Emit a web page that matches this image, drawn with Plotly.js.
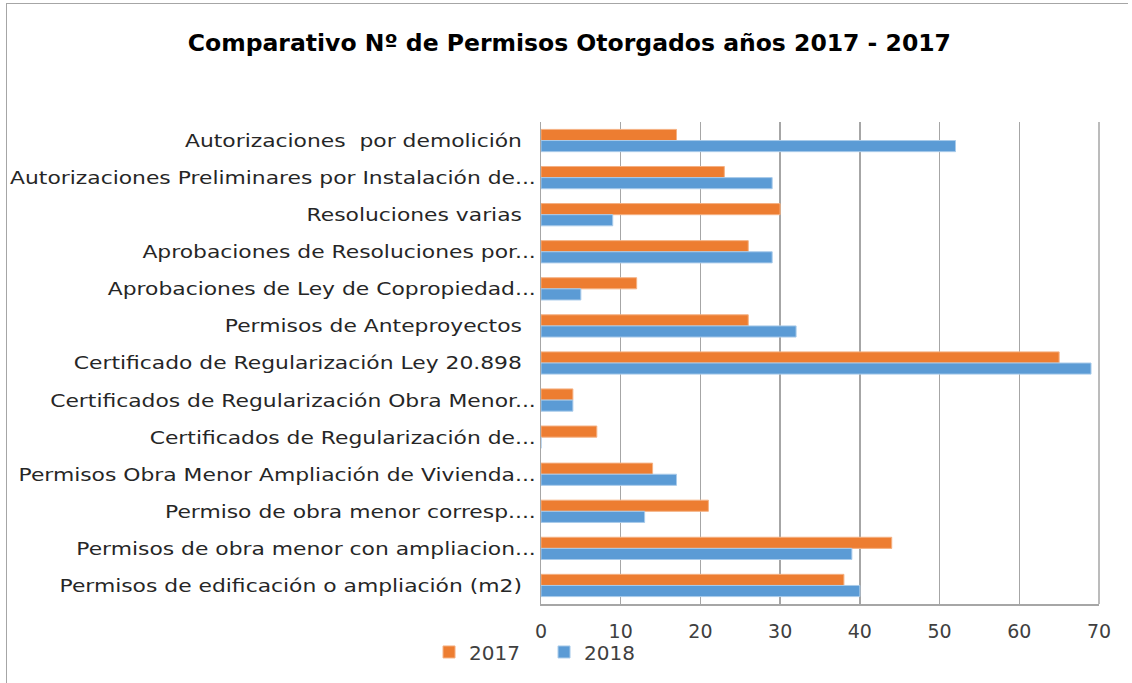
<!DOCTYPE html>
<html>
<head>
<meta charset="utf-8">
<script src="https://cdn.plot.ly/plotly-3.0.1.min.js"></script>
<style>
  html, body { margin: 0; padding: 0; background: #fff; }
  #wrap { position: relative; width: 1132px; height: 683px; }
  #chart { width: 1132px; height: 683px; }
  #frame { position: absolute; left: 6px; top: 3px; width: 1122px; height: 680px;
           border-top: 1.5px solid #a6a6a6; border-left: 1.5px solid #a6a6a6;
           pointer-events: none; box-sizing: border-box; }
</style>
</head>
<body>
<div id="wrap">
  <div id="chart"></div>
  <div id="frame"></div>
</div>
<script>
// Categories listed top to bottom as shown in the chart
const categories = [
  "Autorizaciones  por demolición",
  "Autorizaciones Preliminares por Instalación de...",
  "Resoluciones varias",
  "Aprobaciones de Resoluciones por...",
  "Aprobaciones de Ley de Copropiedad...",
  "Permisos de Anteproyectos",
  "Certificado de Regularización Ley 20.898",
  "Certificados de Regularización Obra Menor...",
  "Certificados de Regularización de...",
  "Permisos Obra Menor Ampliación de Vivienda...",
  "Permiso de obra menor corresp....",
  "Permisos de obra menor con ampliacion...",
  "Permisos de edificación o ampliación (m2)"
];
const values2017 = [17, 23, 30, 26, 12, 26, 65, 4, 7, 14, 21, 44, 38];
const values2018 = [52, 29, 9, 29, 5, 32, 69, 4, 0, 17, 13, 39, 40];
const seriesNames = ["2017", "2018"];
const xTicks = [0, 10, 20, 30, 40, 50, 60, 70];

// Excel pads labels that are not truncated; mimic with trailing spaces
const tickText = categories.map(c => c.endsWith("...") ? c : c + "\u00a0\u00a0");

const traces = [
  {
    type: "bar", orientation: "h", name: seriesNames[0],
    y: categories, x: values2017,
    marker: { color: "#ed7d31", line: { color: "#f4b183", width: 1 } },
    hoverinfo: "x+y"
  },
  {
    type: "bar", orientation: "h", name: seriesNames[1],
    y: categories, x: values2018,
    marker: { color: "#5b9bd5", line: { color: "#a9cbea", width: 1 } },
    hoverinfo: "x+y"
  }
];

const FONT = "DejaVu Sans, sans-serif";

const layout = {
  width: 1132, height: 683,
  paper_bgcolor: "#ffffff", plot_bgcolor: "#ffffff",
  margin: { l: 541, r: 33, t: 122, b: 79 },
  barmode: "group", bargap: 0.4, bargroupgap: 0,
  title: {
    text: "<b>Comparativo Nº de Permisos Otorgados años 2017 - 2017</b>",
    font: { family: FONT, size: 23.5, color: "#000000" },
    x: 0.503, xanchor: "center", y: 0.937, yanchor: "middle"
  },
  font: { family: FONT, color: "#262626" },
  xaxis: {
    range: [0, 70], tickvals: xTicks, ticktext: xTicks.map(String),
    showgrid: true, gridcolor: "#a6a6a6", gridwidth: 1.5,
    zeroline: false, showline: true, linecolor: "#a6a6a6", linewidth: 1.5,
    mirror: false, ticks: "", ticklen: 0,
    tickfont: { size: 19, color: "#404040", family: FONT },
    ticklabelstandoff: 10, automargin: false,
    fixedrange: true
  },
  yaxis: {
    type: "category", autorange: "reversed",
    tickvals: categories, ticktext: tickText,
    showgrid: false, zeroline: false,
    showline: true, linecolor: "#a6a6a6", linewidth: 1.5,
    ticks: "", ticklen: 0,
    tickfont: { size: 18.5, color: "#262626", family: FONT },
    ticklabelstandoff: 0, automargin: false,
    fixedrange: true
  },
  shapes: [
    { type: "line", xref: "paper", yref: "paper", x0: 1, x1: 1, y0: 0, y1: 1,
      line: { color: "#a6a6a6", width: 1.5 } }
  ],
  legend: {
    orientation: "h", xref: "container", yref: "container",
    x: 0.379, xanchor: "left", y: 0.074, yanchor: "top",
    bgcolor: "rgba(0,0,0,0)",
    font: { size: 20, color: "#404040", family: FONT },
    traceorder: "normal", entrywidth: 70, entrywidthmode: "pixels"
  },
  showlegend: true
};

Plotly.newPlot("chart", traces, layout, { displayModeBar: false, staticPlot: true }).then(gd => {
  // reference category labels are drawn horizontally wider than the font's natural width
  gd.querySelectorAll(".ytick text").forEach(t => {
    const w = t.getComputedTextLength();
    t.setAttribute("textLength", (w * 1.18).toFixed(1));
    t.setAttribute("lengthAdjust", "spacingAndGlyphs");
  });
});
</script>
</body>
</html>
